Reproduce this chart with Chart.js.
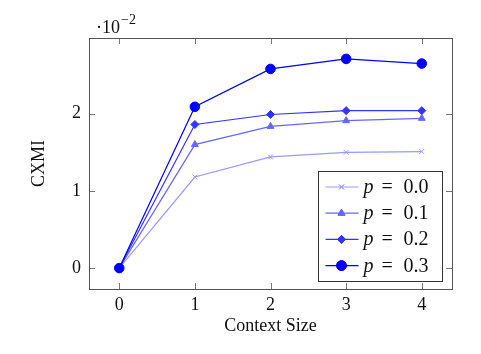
<!DOCTYPE html>
<html>
<head>
<meta charset="utf-8">
<title>CXMI vs context size</title>
<script src="https://cdn.jsdelivr.net/npm/chart.js@4.4.1/dist/chart.umd.min.js"></script>
<style>
  html, body { margin: 0; padding: 0; background: #fff; }
  #wrap { width: 481px; height: 354px; }
</style>
</head>
<body>
<div id="wrap"><canvas id="cxmi-chart" width="481" height="354"></canvas></div>
<script>
// x axis: context size
var contextSizes = [0, 1, 2, 3, 4];

// CXMI (units of 10^-2)
var cxmiP00 = [0, 1.18, 1.44, 1.50, 1.51];
var cxmiP01 = [0, 1.60, 1.835, 1.91, 1.94];
var cxmiP02 = [0, 1.86, 1.99, 2.04, 2.04];
var cxmiP03 = [0, 2.09, 2.58, 2.71, 2.65];

var seriesNames = ['0.0', '0.1', '0.2', '0.3'];
var seriesValues = [cxmiP00, cxmiP01, cxmiP02, cxmiP03];

var xTicks = [0, 1, 2, 3, 4];
var yTicks = [0, 1, 2];

var colors = ['#9999ff', '#6666ff', '#3333ff', '#0000ff'];
var markers = ['crossRot', 'triangle', 'rectRot', 'circle'];
var markerSizes = [3.5, 4, 4, 4.8];

var serif = '"Liberation Serif", "DejaVu Serif", serif';

function drawMarker(ctx, style, r, x, y, color) {
    ctx.save();
    ctx.fillStyle = color;
    ctx.strokeStyle = color;
    ctx.lineWidth = 1;
    Chart.helpers.drawPoint(ctx, { pointStyle: style, radius: r, rotation: 0, borderWidth: 1 }, x, y);
    if (style !== 'crossRot') ctx.fill();
    ctx.stroke();
    ctx.restore();
}

// frame, inward ticks, exponent label and the legend box
var framePlugin = {
    id: 'framePlugin',
    beforeDatasetsDraw: function (chart) {
        var ctx = chart.ctx, a = chart.chartArea;
        var xs = chart.scales.x, ys = chart.scales.y;
        var tl = 6;
        ctx.save();
        ctx.strokeStyle = '#777';
        ctx.lineWidth = 1;
        ctx.beginPath();
        xTicks.forEach(function (v) {
            var px = Math.round(xs.getPixelForValue(v)) + 0.5;
            ctx.moveTo(px, a.bottom); ctx.lineTo(px, a.bottom - tl);
            ctx.moveTo(px, a.top); ctx.lineTo(px, a.top + tl);
        });
        yTicks.forEach(function (v) {
            var py = Math.round(ys.getPixelForValue(v)) + 0.5;
            ctx.moveTo(a.left, py); ctx.lineTo(a.left + tl, py);
            ctx.moveTo(a.right, py); ctx.lineTo(a.right - tl, py);
        });
        ctx.stroke();
        ctx.strokeStyle = '#555';
        ctx.strokeRect(Math.round(a.left) + 0.5, Math.round(a.top) + 0.5,
            Math.round(a.right - a.left), Math.round(a.bottom - a.top));
        ctx.restore();
    },
    afterDatasetsDraw: function (chart) {
        var ctx = chart.ctx;
        // legend box, bottom right inside the plot
        var bx = 318.5, by = 171.5, bw = 124, bh = 110;
        ctx.save();
        ctx.fillStyle = '#fff';
        ctx.fillRect(bx, by, bw, bh);
        ctx.strokeStyle = '#333';
        ctx.lineWidth = 1;
        ctx.strokeRect(bx, by, bw, bh);
        for (var i = 0; i < seriesNames.length; i++) {
            var ry = 187 + i * 26.2;
            ctx.strokeStyle = colors[i];
            ctx.lineWidth = 1.2;
            ctx.beginPath();
            ctx.moveTo(bx + 7, ry); ctx.lineTo(bx + 40, ry);
            ctx.stroke();
            drawMarker(ctx, markers[i], markerSizes[i], bx + 23, ry, colors[i]);
            ctx.fillStyle = '#111';
            ctx.textBaseline = 'alphabetic';
            ctx.textAlign = 'left';
            ctx.font = 'italic 20px ' + serif;
            ctx.fillText('p', bx + 45, ry + 6);
            ctx.font = '20px ' + serif;
            ctx.fillText('=', bx + 63, ry + 6);
            ctx.fillText(seriesNames[i], bx + 85, ry + 6);
        }
        ctx.restore();
    },
    afterDraw: function (chart) {
        var ctx = chart.ctx;
        ctx.save();
        ctx.fillStyle = '#111';
        ctx.textBaseline = 'alphabetic';
        ctx.font = '18px ' + serif;
        ctx.fillText('\u00b710', 96, 33);
        ctx.font = '14px ' + serif;
        ctx.fillText('\u22122', 121, 24);
        ctx.restore();
    }
};

var datasets = seriesValues.map(function (vals, i) {
    return {
        label: 'p = ' + seriesNames[i],
        data: contextSizes.map(function (c, j) { return { x: c, y: vals[j] }; }),
        borderColor: colors[i],
        backgroundColor: colors[i],
        borderWidth: 1.2,
        pointStyle: markers[i],
        pointRadius: markerSizes[i],
        pointBorderWidth: 1,
        pointBorderColor: colors[i],
        pointBackgroundColor: colors[i],
        tension: 0,
        order: seriesNames.length - i
    };
});

var chart = new Chart(document.getElementById('cxmi-chart'), {
    type: 'line',
    data: { datasets: datasets },
    options: {
        responsive: false,
        animation: false,
        devicePixelRatio: 1,
        layout: { padding: { left: 0, right: 29, top: 38, bottom: 0 } },
        plugins: { legend: { display: false }, tooltip: { enabled: false } },
        scales: {
            x: {
                type: 'linear',
                min: -0.4,
                max: 4.4,
                grid: { display: false, drawTicks: false },
                border: { display: false },
                afterBuildTicks: function (s) { s.ticks = xTicks.map(function (v) { return { value: v }; }); },
                afterFit: function (s) { s.height = 65; },
                ticks: { color: '#111', padding: 5, font: { family: serif, size: 18 } },
                title: { display: true, text: 'Context Size', color: '#111', padding: { top: 0, bottom: 17 }, font: { family: serif, size: 18 } }
            },
            y: {
                type: 'linear',
                min: -0.271,
                max: 2.981,
                grid: { display: false, drawTicks: false },
                border: { display: false },
                afterBuildTicks: function (s) { s.ticks = yTicks.map(function (v) { return { value: v }; }); },
                afterFit: function (s) { s.width = 89; },
                ticks: { color: '#111', padding: 8, font: { family: serif, size: 18 } },
                title: { display: true, text: 'CXMI', color: '#111', padding: { top: 28, bottom: 0 }, font: { family: serif, size: 18 } }
            }
        }
    },
    plugins: [framePlugin]
});
</script>
</body>
</html>
